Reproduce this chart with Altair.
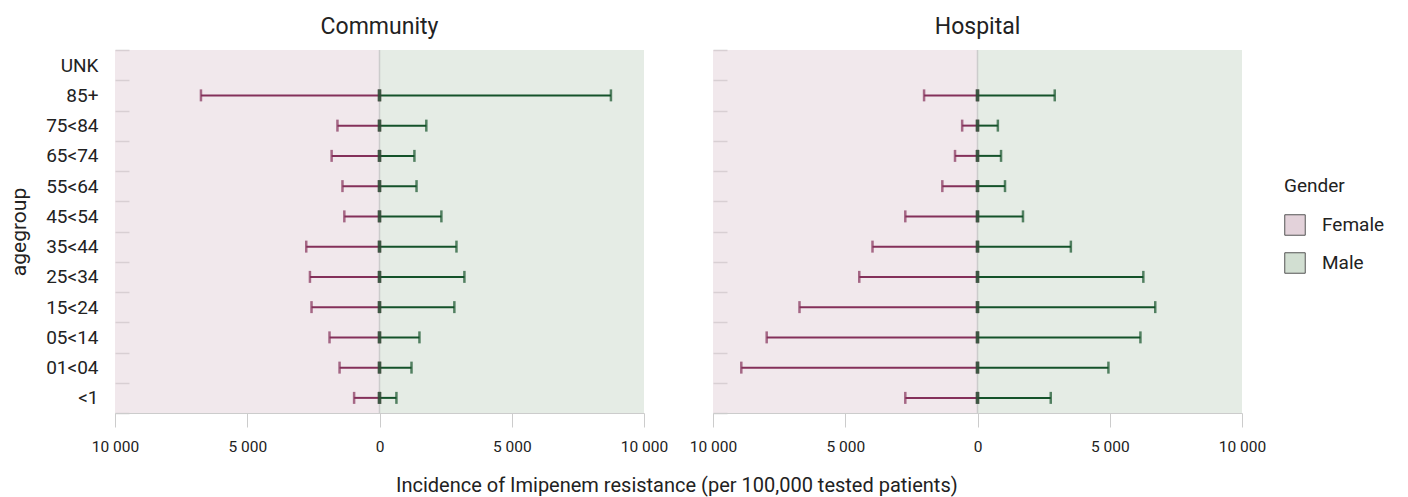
import altair as alt
import pandas as pd

ages = ["UNK", "85+", "75<84", "65<74", "55<64", "45<54", "35<44",
        "25<34", "15<24", "05<14", "01<04", "<1"]
comm_female = [None, 6750, 1590, 1810, 1400, 1330, 2770, 2630, 2570, 1890, 1510, 960]
comm_male = [None, 8750, 1770, 1320, 1400, 2340, 2910, 3210, 2830, 1510, 1210, 640]
hosp_female = [None, 2020, 580, 850, 1330, 2730, 3970, 4470, 6730, 7970, 8930, 2730]
hosp_male = [None, 2920, 770, 890, 1040, 1720, 3530, 6270, 6720, 6160, 4950, 2770]
genders = ["Female", "Male"]
x_ticks = [-10000, -5000, 0, 5000, 10000]

FONT = "Roboto"
F_COL = "#84305a"
M_COL = "#14522a"


def make_df(fem, mal):
    rows = []
    for a, f, m in zip(ages, fem, mal):
        if f is not None:
            rows.append({"agegroup": a, "Gender": "Female", "value": -f, "zero": 0})
        if m is not None:
            rows.append({"agegroup": a, "Gender": "Male", "value": m, "zero": 0})
    return pd.DataFrame(rows)


bg = pd.DataFrame({"Gender": genders, "start": [-10000, 0], "end": [0, 10000]})
zero_df = pd.DataFrame({"zero": [0]})

xscale = alt.Scale(domain=[-10000, 10000], nice=False, zero=False)


def panel(fem, mal, title, show_labels, title_dy):
    df = make_df(fem, mal)
    xaxis = alt.Axis(values=x_ticks, labelExpr="replace(format(abs(datum.value), ','), ',', ' ')",
                     title=None)
    yaxis = alt.Axis(title="agegroup" if show_labels else None, labels=show_labels,
                     labelPadding=17 if show_labels else 0)
    yscale = alt.Scale(domain=ages)

    rect = alt.Chart(bg).mark_rect().encode(
        x=alt.X("start:Q", scale=xscale, axis=xaxis),
        x2="end:Q",
        color=alt.Color("Gender:N", scale=alt.Scale(domain=genders, range=["#e3d2da", "#d2dfd2"]),
                        legend=alt.Legend(title="Gender", orient="none", legendX=1169, legendY=127)),
        opacity=alt.condition("datum.Gender == 'Female'", alt.value(0.5), alt.value(0.58)),
    )
    zrule = alt.Chart(zero_df).mark_rule(color="#cccccc", strokeWidth=1.5).encode(
        x=alt.X("zero:Q", scale=xscale, axis=xaxis)
    )
    col = alt.condition("datum.Gender == 'Female'", alt.value(F_COL), alt.value(M_COL))
    base = alt.Chart(df)
    bars = base.mark_rule(strokeWidth=2).encode(
        x=alt.X("zero:Q", scale=xscale, axis=xaxis),
        x2="value:Q",
        y=alt.Y("agegroup:N", scale=yscale, axis=yaxis, sort=ages),
        color=col,
    )
    cap = base.mark_tick(size=12, thickness=2.5, orient="vertical").encode(
        x=alt.X("value:Q", scale=xscale, axis=xaxis),
        y=alt.Y("agegroup:N", scale=yscale, axis=yaxis, sort=ages),
        color=col,
    )
    cap0 = base.mark_tick(size=12, thickness=3.5, orient="vertical").encode(
        x=alt.X("zero:Q", scale=xscale, axis=xaxis),
        y=alt.Y("agegroup:N", scale=yscale, axis=yaxis, sort=ages),
        color=col,
    )
    return alt.layer(rect, zrule, bars, cap, cap0).properties(
        width=529, height=363,
        title=alt.TitleParams(title, dy=title_dy),
    )


left = panel(comm_female, comm_male, "Community", True, 8)
right = panel(hosp_female, hosp_male, "Hospital", False, 0)

chart = alt.hconcat(left, right, spacing=21).properties(
    title=alt.TitleParams("Incidence of Imipenem resistance (per 100,000 tested patients)",
                          orient="bottom", anchor="middle", fontSize=20, fontWeight="normal",
                          font=FONT, color="#222222", offset=21, dx=-20),
    padding={"left": 0, "top": 8, "right": 5, "bottom": 2},
).configure_view(stroke=None).configure_title(
    fontSize=23, fontWeight="normal", font=FONT, color="#222222", offset=10
).configure_axisX(
    grid=False, domainColor="#cccccc", tickColor="#cccccc", tickSize=14, labelPadding=12,
    labelFontSize=15.5, labelFlush=False, labelColor="#222222", labelFont=FONT, labelOverlap=False,
).configure_axisY(
    domain=False, offset=-14, tickSize=14, tickBand="extent", tickColor="#cccccc", tickWidth=1.5,
    labelFontSize=19, labelColor="#222222", labelFont=FONT, titleFont=FONT,
    titleFontSize=21, titleFontWeight="normal", titleColor="#222222", grid=False, titlePadding=16,
).configure_legend(
    titleFontSize=19, titleFontWeight="normal", labelFontSize=19, titleFont=FONT, labelFont=FONT,
    symbolType="square", symbolSize=420, symbolOpacity=1, symbolStrokeColor="#555555",
    symbolStrokeWidth=1, rowPadding=12, titlePadding=18, labelOffset=16,
    titleColor="#222222", labelColor="#222222",
)

chart.save("out.html", embed_options={"renderer": "svg", "actions": False})
